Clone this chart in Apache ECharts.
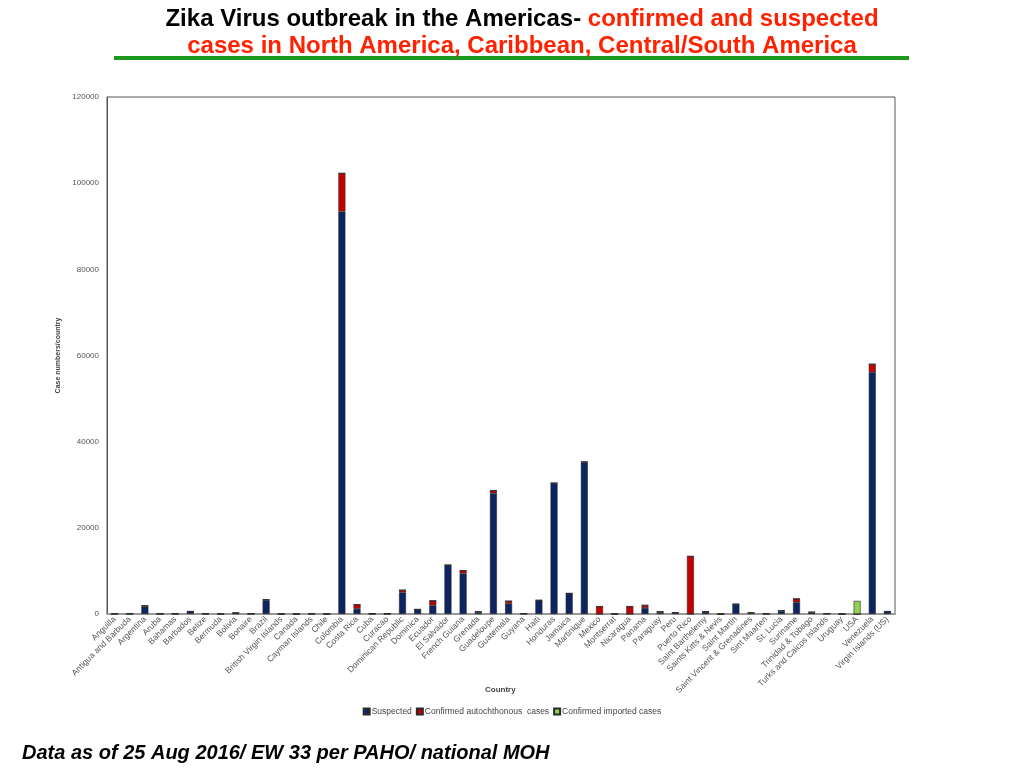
<!DOCTYPE html>
<html>
<head>
<meta charset="UTF-8">
<title>Zika Virus outbreak in the Americas</title>
<script src="https://cdn.jsdelivr.net/npm/echarts@6/dist/echarts.min.js"></script>
<style>
  html, body { margin: 0; padding: 0; background: #fff; }
  #container { width: 1024px; height: 768px; }
</style>
</head>
<body>
<div id="container"></div>
<script>
// countries along the x axis
var countries = ['Anguilla', 'Antigua and Barbuda', 'Argentina', 'Aruba', 'Bahamas', 'Barbados', 'Belize',
  'Bermuda', 'Bolivia', 'Bonaire', 'Brazil', 'British Virgin Islands', 'Canada', 'Cayman Islands', 'Chile',
  'Colombia', 'Costa Rica', 'Cuba', 'Curacao', 'Dominican Republic', 'Dominica', 'Ecuador', 'El Salvador',
  'French Guiana', 'Grenada', 'Guadeloupe', 'Guatemala', 'Guyana', 'Haiti', 'Honduras', 'Jamaica',
  'Martinique', 'Mexico', 'Montserrat', 'Nicaragua', 'Panama', 'Paraguay', 'Peru', 'Puerto Rico',
  'Saint Barthelemy', 'Saints Kitts & Nevis', 'Saint Martin', 'Saint Vincent & Grenadines', 'Sint Maarten',
  'St. Lucia', 'Suriname', 'Trinidad & Tobago', 'Turks and Caicos Islands', 'Uruguay', 'USA', 'Venezuela',
  'Virgin Islands (US)'];

// case counts, same order as countries
var suspected = [50, 50, 1700, 50, 50, 550, 50, 30, 100, 50, 3200, 0, 0, 50, 0,
  93400, 1200, 50, 50, 5000, 1000, 2000, 11300, 9400, 400, 28000, 2400, 80, 3100, 30300, 4700,
  35200, 0, 0, 0, 1400, 400, 200, 0, 500, 0, 2200, 200, 50, 650, 2700, 300, 80, 0, 0, 56100, 550];
var confirmedAuto = [0, 0, 250, 0, 0, 50, 0, 0, 200, 0, 150, 0, 0, 0, 0,
  8900, 1000, 0, 0, 550, 80, 1100, 60, 700, 150, 650, 600, 0, 100, 100, 100,
  100, 1750, 0, 1750, 600, 150, 150, 13400, 50, 0, 100, 100, 0, 150, 850, 150, 0, 0, 0, 1900, 50];
var confirmedImported = [0, 0, 0, 0, 0, 0, 0, 0, 0, 0, 0, 0, 60, 0, 0,
  0, 0, 0, 0, 0, 0, 0, 0, 0, 0, 0, 0, 0, 0, 0, 0,
  0, 0, 0, 0, 100, 0, 0, 0, 0, 0, 0, 0, 0, 0, 0, 0, 0, 0, 3050, 0, 0];

var seriesNames = ['Suspected', 'Confirmed autochthonous  cases', 'Confirmed imported cases'];
var seriesColors = ['#0c2461', '#c40000', '#92d050'];

var dom = document.getElementById('container');
var myChart = echarts.init(dom);

var barStyle = function (c) {
  return { color: c, borderColor: '#2a2a2a', borderWidth: 0.6 };
};

var option = {
  animation: false,
  backgroundColor: '#fff',
  title: {
    left: 517,
    top: 1,
    textAlign: 'center',
    text: '{a|Zika Virus outbreak in the Americas- }{b|confirmed and suspected}\n{b|cases in North America, Caribbean, Central/South America}',
    textStyle: {
      rich: {
        a: { fontFamily: 'Liberation Sans', fontWeight: 'bold', fontSize: 24, color: '#000', lineHeight: 27 },
        b: { fontFamily: 'Liberation Sans', fontWeight: 'bold', fontSize: 24, color: '#ff2200', lineHeight: 27 }
      }
    }
  },
  graphic: [
    {
      type: 'line',
      shape: { x1: 114, y1: 58, x2: 909, y2: 58 },
      style: { stroke: '#1d9a1d', lineWidth: 4 }
    },
    {
      // x axis title, placed by hand so it does not get pushed below the rotated labels
      type: 'text',
      left: 485,
      top: 686,
      style: {
        text: 'Country',
        font: 'bold 8px "Liberation Sans"',
        fill: '#444'
      }
    },
    {
      type: 'text',
      left: 22,
      top: 743,
      style: {
        text: 'Data as of 25 Aug 2016/ EW 33 per PAHO/ national MOH',
        font: 'italic bold 20px "Liberation Sans"',
        fill: '#000'
      }
    }
  ],
  legend: {
    top: 702,
    left: 'center',
    itemWidth: 6,
    itemHeight: 6,
    itemGap: 4,
    icon: 'rect',
    textStyle: { fontSize: 8.5, color: '#444', fontFamily: 'Liberation Sans', padding: [0, 0, 0, -3] },
    data: seriesNames
  },
  grid: {
    left: 107,
    right: 129,
    top: 97,
    bottom: 154,
    show: true,
    borderColor: '#555',
    borderWidth: 1
  },
  xAxis: {
    type: 'category',
    data: countries,
    axisLine: { lineStyle: { color: '#999', width: 2 } },
    axisTick: { show: false },
    axisLabel: { interval: 0, rotate: 45, fontSize: 8.5, color: '#555', fontFamily: 'Liberation Sans', margin: 4 }
  },
  yAxis: {
    type: 'value',
    min: 0,
    max: 120000,
    interval: 20000,
    name: 'Case numbers/country',
    nameLocation: 'middle',
    nameGap: 42,
    nameTextStyle: { fontSize: 7, fontWeight: 'bold', color: '#444', fontFamily: 'Liberation Sans' },
    axisLine: { show: true, lineStyle: { color: '#555' } },
    axisTick: { show: false },
    splitLine: { show: false },
    axisLabel: {
      fontSize: 8, color: '#555', fontFamily: 'Liberation Sans', margin: 8,
      formatter: function (v) { return String(v); }
    }
  },
  series: [
    { name: seriesNames[0], type: 'bar', stack: 'cases', barWidth: 7, data: suspected, itemStyle: barStyle(seriesColors[0]) },
    { name: seriesNames[1], type: 'bar', stack: 'cases', barWidth: 7, data: confirmedAuto, itemStyle: barStyle(seriesColors[1]) },
    { name: seriesNames[2], type: 'bar', stack: 'cases', barWidth: 7, data: confirmedImported, itemStyle: barStyle(seriesColors[2]) }
  ]
};

if (option && typeof option === 'object') {
  myChart.setOption(option, true);
}
</script>
</body>
</html>
